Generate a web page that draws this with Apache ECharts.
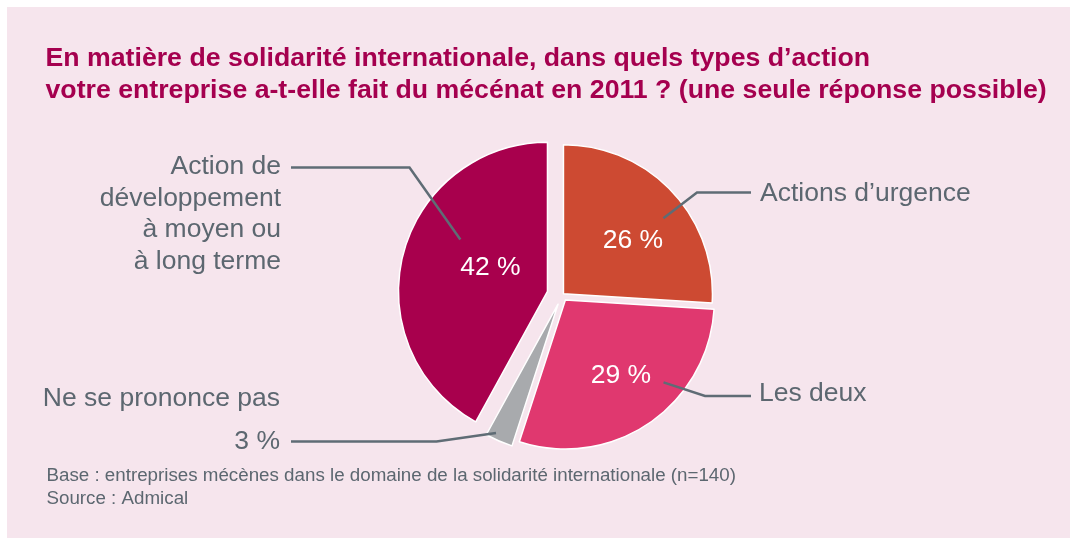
<!DOCTYPE html>
<html lang="fr">
<head>
<meta charset="UTF-8">
<title>Solidarité internationale</title>
<script src="https://cdn.jsdelivr.net/npm/echarts@6/dist/echarts.min.js"></script>
<style>
    html, body { margin: 0; padding: 0; background: #fff; }
    #main { width: 1070px; height: 539px; }
</style>
</head>
<body>
<div id="main"></div>
<script type="text/javascript">
    // data
    var categories = ['Actions d’urgence', 'Les deux', 'Ne se prononce pas',
        'Action de\ndéveloppement\nà moyen ou\nà long terme'];
    var shares = [26, 29, 3, 42];
    var titleText = 'En matière de solidarité internationale, dans quels types d’action\n' +
        'votre entreprise a-t-elle fait du mécénat en 2011 ? (une seule réponse possible)';
    var noteText = 'Base : entreprises mécènes dans le domaine de la solidarité internationale (n=140)\n' +
        'Source : Admical';

    // layout / style
    var colors = ['#cd4a32', '#e0386f', '#a8aaad', '#a8004d'];
    var font = '"Liberation Sans", Arial, sans-serif';
    var textGrey = '#5c6770';
    var lineGrey = '#5f6c75';
    var base = [562, 295];
    var radius = 149;
    var explode = [2, 6, 10, 15];
    var innerShift = [[13, 0], [12, 12], null, [18, -4.5]];
    var callouts = [
        {anchor: [53, 0.84], bend: [697, 192.5], end: [751, 192.5],
            x: 760, y: 194, align: 'left', va: 'middle', lh: 31.6, fmt: '{b}'},
        {anchor: [130, 0.86], bend: [705, 396], end: [751, 396],
            x: 759, y: 394, align: 'left', va: 'middle', lh: 31.6, fmt: '{b}'},
        {anchor: [205.7, 0.96], bend: [436.5, 441.5], end: [291, 441.5],
            x: 280, y: 377.5, align: 'right', va: 'top', lh: 42.5, fmt: '{b}\n{c}\u00a0%'},
        {anchor: [300.7, 0.68], bend: [409.5, 167.5], end: [291, 167.5],
            x: 281, y: 151, align: 'right', va: 'top', lh: 31.6, fmt: '{b}'}
    ];

    var total = shares.reduce(function (a, b) { return a + b; }, 0);
    var centers = shares.map(function (v, i) {
        var before = 0;
        for (var k = 0; k < i; k++) before += shares[k];
        var mid = (before + v / 2) / total * 2 * Math.PI;
        return [base[0] + explode[i] * Math.sin(mid), base[1] - explode[i] * Math.cos(mid)];
    });

    function hidden() {
        return {color: 'transparent', borderWidth: 0};
    }

    var series = [];
    shares.forEach(function (v, i) {
        // the visible slice, with its percentage inside
        series.push({
            type: 'pie',
            z: 2,
            center: centers[i],
            radius: radius,
            startAngle: 90,
            silent: true,
            animation: false,
            avoidLabelOverlap: false,
            emphasis: {disabled: true},
            label: {
                show: innerShift[i] !== null,
                position: 'inside',
                formatter: '{c}\u00a0%',
                color: '#ffffff',
                fontFamily: font,
                fontSize: 26.5
            },
            labelLine: {show: false},
            labelLayout: innerShift[i] ? {dx: innerShift[i][0], dy: innerShift[i][1]} : null,
            data: shares.map(function (s, j) {
                return {
                    value: s,
                    name: categories[j],
                    itemStyle: j === i ? {color: colors[j], borderColor: '#ffffff', borderWidth: 1.5} : hidden(),
                    label: {show: j === i && innerShift[i] !== null}
                };
            })
        });
    });
    shares.forEach(function (v, i) {
        // transparent twin on top carrying the outside label and its leader line
        var co = callouts[i];
        series.push({
            type: 'pie',
            z: 5,
            center: centers[i],
            radius: radius,
            startAngle: 90,
            silent: true,
            animation: false,
            avoidLabelOverlap: false,
            emphasis: {disabled: true},
            label: {
                position: 'outside',
                formatter: co.fmt,
                color: textGrey,
                fontFamily: font,
                fontSize: 26.5,
                lineHeight: co.lh
            },
            labelLine: {show: true, length: 20, length2: 40, lineStyle: {color: lineGrey, width: 2.5}},
            labelLayout: function () {
                var c = centers[i];
                var a = co.anchor[0] * Math.PI / 180;
                var rr = co.anchor[1] * radius;
                var p0 = [c[0] + rr * Math.sin(a), c[1] - rr * Math.cos(a)];
                return {
                    x: co.x, y: co.y, align: co.align, verticalAlign: co.va,
                    labelLinePoints: [p0, co.bend, co.end]
                };
            },
            data: shares.map(function (s, j) {
                return {
                    value: s,
                    name: categories[j],
                    itemStyle: hidden(),
                    label: {show: j === i},
                    labelLine: {show: j === i}
                };
            })
        });
    });

    var myChart = echarts.init(document.getElementById('main'));
    var option = {
        backgroundColor: '#ffffff',
        animation: false,
        graphic: [{
            type: 'rect', silent: true, z: -10,
            shape: {x: 7, y: 7, width: 1063, height: 531},
            style: {fill: '#f6e5ed'}
        }],
        title: [{
            text: titleText,
            left: 45.5,
            top: 43,
            padding: 0,
            textStyle: {fontFamily: font, fontSize: 26.7, lineHeight: 31.5, fontWeight: 'bold', color: '#a5004f'}
        }, {
            text: noteText,
            left: 46.5,
            top: 464,
            padding: 0,
            textStyle: {fontFamily: font, fontSize: 18.75, lineHeight: 23.4, fontWeight: 'normal', color: textGrey}
        }],
        series: series
    };
    myChart.setOption(option);
</script>
</body>
</html>
